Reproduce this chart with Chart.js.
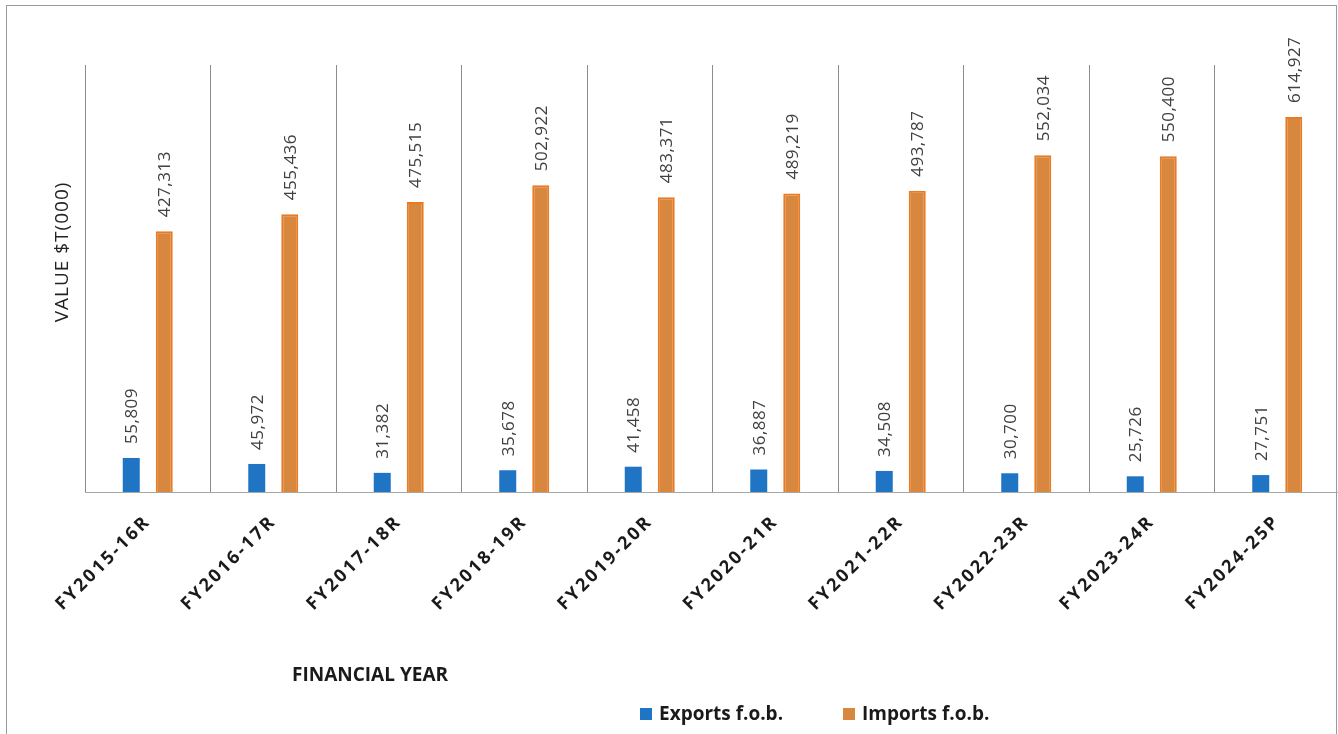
<!DOCTYPE html>
<html>
<head>
<meta charset="utf-8">
<script src="https://cdn.jsdelivr.net/npm/chart.js@4.4.1/dist/chart.umd.min.js"></script>
<style>
  html, body { margin: 0; padding: 0; background: #fff; overflow: hidden; }
  #wrap { width: 1338px; height: 734px; overflow: hidden; position: relative; }
  #box { width: 1342px; height: 734px; position: relative; }
</style>
</head>
<body>
<div id="wrap"><div id="box"><canvas id="tradeChart"></canvas></div></div>
<script>
// datos
const years = ['FY2015-16R', 'FY2016-17R', 'FY2017-18R', 'FY2018-19R', 'FY2019-20R',
               'FY2020-21R', 'FY2021-22R', 'FY2022-23R', 'FY2023-24R', 'FY2024-25P'];
const exportsFob = [55809, 45972, 31382, 35678, 41458, 36887, 34508, 30700, 25726, 27751];
const importsFob = [427313, 455436, 475515, 502922, 483371, 489219, 493787, 552034, 550400, 614927];
const seriesNames = ['Exports f.o.b.', 'Imports f.o.b.'];
const yTitle = 'VALUE $T(000)';
const xTitle = 'FINANCIAL YEAR';

const BLUE = '#1f74c4';
const ORANGE = '#d8873f';
const ORANGE_EDGE = '#ec7a22';

// marco, titulos, leyenda y etiquetas de valor
const extrasPlugin = {
  id: 'extras',
  beforeLayout(chart) {
    chart.ctx.letterSpacing = '2.5px';
  },
  beforeDraw(chart) {
    const ctx = chart.ctx;
    ctx.save();
    ctx.strokeStyle = '#9a9a9a';
    ctx.lineWidth = 1;
    ctx.strokeRect(6.5, 5.5, 1330, 760);
    ctx.restore();
    ctx.letterSpacing = '2.5px';
  },
  afterDraw(chart) {
    const ctx = chart.ctx;
    ctx.save();
    ctx.letterSpacing = '0.5px';
    ctx.fillStyle = '#404040';
    ctx.font = '17px "Open Sans"';
    ctx.textAlign = 'left';
    ctx.textBaseline = 'middle';
    chart.data.datasets.forEach((ds, i) => {
      chart.getDatasetMeta(i).data.forEach((bar, j) => {
        ctx.save();
        ctx.translate(bar.x + 1, bar.y - 14);
        ctx.rotate(-Math.PI / 2);
        ctx.fillText(ds.data[j].toLocaleString('en-US'), 0, 0);
        ctx.restore();
      });
    });

    // titulo eje y
    ctx.letterSpacing = '1px';
    ctx.fillStyle = '#222';
    ctx.font = '19px "Open Sans"';
    ctx.textAlign = 'center';
    ctx.save();
    ctx.translate(63, 252);
    ctx.rotate(-Math.PI / 2);
    ctx.fillText(yTitle, 0, 0);
    ctx.restore();

    // titulo eje x
    ctx.letterSpacing = '0px';
    ctx.font = 'bold 19px "Open Sans"';
    ctx.textAlign = 'left';
    ctx.textBaseline = 'alphabetic';
    ctx.fillStyle = '#1a1a1a';
    ctx.fillText(xTitle, 292, 681);

    // leyenda
    const legendX = [640, 843];
    chart.data.datasets.forEach((ds, i) => {
      ctx.fillStyle = ds.legendColor;
      ctx.fillRect(legendX[i], 708, 12, 12);
      ctx.fillStyle = '#1a1a1a';
      ctx.fillText(ds.label, legendX[i] + 19, 720);
    });
    ctx.restore();
  }
};

const chart = new Chart(document.getElementById('tradeChart'), {
  type: 'bar',
  data: {
    labels: years,
    datasets: [{
      label: seriesNames[0],
      data: exportsFob,
      backgroundColor: BLUE,
      borderColor: BLUE,
      borderWidth: 0,
      legendColor: BLUE,
      categoryPercentage: 0.526,
      barPercentage: 0.515
    }, {
      label: seriesNames[1],
      data: importsFob,
      backgroundColor: ORANGE,
      borderColor: ORANGE_EDGE,
      borderWidth: 2,
      legendColor: ORANGE,
      categoryPercentage: 0.526,
      barPercentage: 0.515
    }]
  },
  options: {
    responsive: true,
    maintainAspectRatio: false,
    animation: false,
    devicePixelRatio: 1,
    layout: {
      padding: { left: 85, top: 65, right: 2, bottom: 0 }
    },
    plugins: {
      legend: { display: false },
      tooltip: { enabled: false }
    },
    scales: {
      x: {
        grid: {
          display: true,
          offset: true,
          drawTicks: false,
          color: '#8c8c8c',
          lineWidth: 1
        },
        border: { display: true, color: '#a6a6a6', width: 1 },
        ticks: {
          autoSkip: false,
          minRotation: 45,
          maxRotation: 45,
          padding: 19,
          color: '#1a1a1a',
          font: { family: '"Open Sans"', size: 18, weight: 'bold' }
        },
        afterFit(scale) {
          scale.height = 242;
        }
      },
      y: {
        display: false,
        min: 0,
        max: 700000
      }
    }
  },
  plugins: [extrasPlugin]
});
</script>
</body>
</html>
